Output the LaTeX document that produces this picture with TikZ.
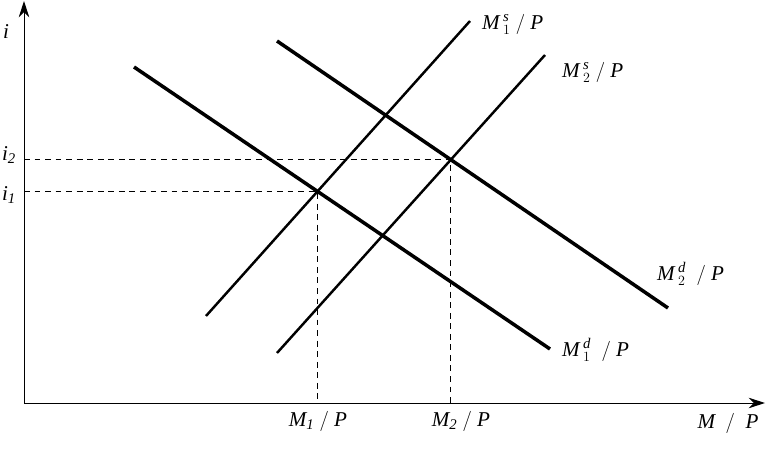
\documentclass[tikz,border=0pt]{standalone}
\usepackage{fontspec}
\setmainfont{Liberation Serif}
\usetikzlibrary{arrows.meta}

\tikzset{
  axis/.style={line width=0.8pt, -{Stealth[length=14pt,width=9pt]}},
  supply/.style={line width=2.1pt},
  demand/.style={line width=3pt},
  guide/.style={line width=0.7pt, dash pattern=on 5pt off 4pt},
  guidebold/.style={line width=1.5pt, dash pattern=on 5pt off 4pt},
  lbl/.style={font=\fontsize{18}{21}\selectfont, inner sep=0pt},
}

\begin{document}
\begin{tikzpicture}[x=0.03cm,y=-0.03cm]
\useasboundingbox (0,0) rectangle (772,452);

% axes
\coordinate (O) at (24,403);
\coordinate (itop) at (24,1);
\coordinate (mend) at (765,403);
\draw[axis] (O) -- (itop);
\draw[axis] (O) -- (mend);

% money supply
\coordinate (s1a) at (206,316);
\coordinate (s1b) at (470,21);
\coordinate (s2a) at (277,353);
\coordinate (s2b) at (545,55);
\draw[supply] (s1a) -- (s1b);
\draw[supply] (s2a) -- (s2b);

% money demand
\coordinate (d1a) at (134,67);
\coordinate (d1b) at (550,349);
\coordinate (d2a) at (277,41);
\coordinate (d2b) at (668,308);
\draw[demand] (d1a) -- (d1b);
\draw[demand] (d2a) -- (d2b);

% equilibria
\coordinate (E1) at (intersection of s1a--s1b and d1a--d1b);
\coordinate (E2) at (intersection of s2a--s2b and d2a--d2b);
\coordinate (i1) at (O |- E1);
\coordinate (i2) at (O |- E2);
\coordinate (m1) at (E1 |- O);
\coordinate (m2) at (E2 |- O);
\draw[guidebold] (i1) -- (E1) -- (m1);
\draw[guide] (i2) -- (E2) -- (m2);

% labels
\node[lbl] (ilab) at (6,32) {$\mathit{i}$};
\node[lbl] (i2lab) at (9,155) {$\mathit{i}_{\mathit{2}}$};
\node[lbl] (i1lab) at (9,195) {$\mathit{i}_{\mathit{1}}$};
\node[lbl] (m1lab) at (318,421) {$\mathit{M}_{\mathit{1}}\ /\ \mathit{P}$};
\node[lbl] (m2lab) at (461,421) {$\mathit{M}_{\mathit{2}}\ /\ \mathit{P}$};
\node[lbl] (mplab) at (728,423) {$\mathit{M}\ \ /\ \ \mathit{P}$};
\node[lbl, anchor=west] (s1lab) at (482,24) {$\mathit{M}\,{}^{\mathit{s}}_{1}\ /\ \mathit{P}$};
\node[lbl, anchor=west] (s2lab) at (562,72) {$\mathit{M}\,{}^{\mathit{s}}_{2}\ /\ \mathit{P}$};
\node[lbl, anchor=west] (d2lab) at (657,274) {$\mathit{M}\,{}^{\mathit{d}}_{2}\ \ /\ \mathit{P}$};
\node[lbl, anchor=west] (d1lab) at (562,350) {$\mathit{M}\,{}^{\mathit{d}}_{1}\ \ /\ \mathit{P}$};

\end{tikzpicture}
\end{document}
